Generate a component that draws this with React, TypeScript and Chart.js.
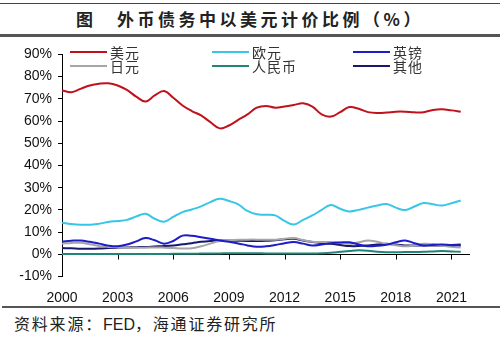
import React, { useEffect, useRef } from "react";
import { Chart, registerables } from "chart.js";

Chart.register(...registerables);

const years = [
  2000, 2000.5, 2001, 2001.5, 2002, 2002.5, 2003, 2003.5, 2004, 2004.5,
  2005, 2005.5, 2006, 2006.5, 2007, 2007.5, 2008, 2008.5, 2009, 2009.5,
  2010, 2010.5, 2011, 2011.5, 2012, 2012.5, 2013, 2013.5, 2014, 2014.5,
  2015, 2015.5, 2016, 2016.5, 2017, 2017.5, 2018, 2018.5, 2019, 2019.5,
  2020, 2020.5, 2021, 2021.5,
];

const usd = [
  73.8, 73.0, 74.5, 76.0, 76.8, 77.0, 76.0, 74.0, 71.0, 68.8,
  71.5, 73.5, 70.5, 67.0, 64.5, 62.5, 59.5, 56.7, 58.0, 60.5,
  63.0, 66.0, 66.8, 66.0, 66.5, 67.2, 68.0, 66.5, 63.0, 62.0,
  64.0, 66.3, 65.5, 64.0, 63.6, 63.8, 64.2, 64.2, 63.9, 64.0,
  65.0, 65.3, 64.8, 64.2,
];

const eur = [
  14.2, 13.6, 13.3, 13.3, 13.8, 14.5, 15.0, 15.5, 17.0, 18.2,
  16.0, 14.7, 16.8, 19.0, 20.2, 21.6, 23.5, 25.0, 24.0, 22.5,
  19.5, 18.0, 17.8, 17.5, 15.0, 13.4, 15.5, 17.5, 20.0, 22.2,
  20.5, 19.3, 20.0, 21.0, 22.0, 22.6, 21.0, 19.9, 21.5, 23.1,
  22.5, 22.0, 23.0, 24.2,
];

const gbp = [
  5.8, 6.1, 6.2, 5.6, 4.8, 3.9, 3.6, 4.4, 5.8, 7.3,
  6.3, 4.8, 6.0, 8.4, 8.3, 7.7, 7.0, 6.2, 5.6, 4.9,
  4.0, 3.4, 3.6, 4.2, 5.0, 5.5, 4.8, 4.0, 4.4, 5.0,
  5.3, 5.4, 4.4, 3.6, 3.8, 4.3, 5.4, 6.2, 5.0, 4.0,
  4.3, 4.4, 4.1, 4.0,
];

const jpy = [
  4.8, 5.1, 5.2, 4.5, 3.7, 3.3, 3.1, 3.0, 3.0, 3.0,
  3.1, 3.0, 2.8, 2.6, 2.7, 3.6, 4.8, 6.0, 6.4, 6.5,
  6.6, 6.6, 6.5, 6.6, 7.0, 7.3, 6.4, 5.6, 5.5, 5.5,
  5.2, 4.7, 5.4, 6.2, 5.6, 4.7, 4.1, 3.6, 4.0, 4.7,
  4.5, 3.8, 3.4, 3.0,
];

const cny = [
  0.1, 0.1, 0.1, 0.1, 0.1, 0.1, 0.1, 0.1, 0.1, 0.1,
  0.1, 0.1, 0.2, 0.2, 0.2, 0.3, 0.4, 0.4, 0.5, 0.5,
  0.5, 0.5, 0.4, 0.4, 0.4, 0.4, 0.4, 0.4, 0.5, 0.7,
  1.1, 1.5, 1.8, 1.6, 1.1, 0.9, 0.9, 1.0, 1.0, 1.1,
  1.3, 1.5, 1.3, 1.1,
];

const other = [
  2.8, 2.7, 2.5, 2.5, 2.6, 2.8, 3.0, 3.1, 3.2, 3.3,
  3.5, 3.7, 4.0, 4.5, 5.0, 5.6, 6.0, 6.2, 6.2, 6.1,
  6.0, 6.0, 6.1, 6.3, 6.8, 7.0, 6.2, 5.5, 5.0, 4.7,
  4.2, 3.7, 3.7, 4.0, 4.4, 4.7, 4.4, 4.0, 4.0, 4.0,
  4.0, 4.0, 4.2, 4.4,
];

const seriesNames = ["美元", "欧元", "英镑", "日元", "人民币", "其他"];
const seriesValues = [usd, eur, gbp, jpy, cny, other];
const seriesColors = ["#C0121C", "#38C6E6", "#1C1CC8", "#A6A6A6", "#1F8578", "#18186E"];

const xTickYears = [2000, 2003, 2006, 2009, 2012, 2015, 2018, 2021];
const yTickValues = [-10, 0, 10, 20, 30, 40, 50, 60, 70, 80, 90];

const titleText = "外币债务中以美元计价比例（%）";
const sourceText = "资料来源：FED，海通证券研究所";

const zeroLinePlugin = {
  id: "zeroLine",
  beforeDatasetsDraw(chart: any) {
    const { ctx, chartArea, scales } = chart;
    const y = Math.round(scales.y.getPixelForValue(0)) + 0.5;
    ctx.save();
    ctx.strokeStyle = "#000";
    ctx.lineWidth = 1;
    ctx.beginPath();
    ctx.moveTo(chartArea.left, y);
    ctx.lineTo(chartArea.right, y);
    xTickYears.forEach((v) => {
      const x = Math.round(scales.x.getPixelForValue(v)) + 0.5;
      ctx.moveTo(x, y);
      ctx.lineTo(x, y + 5);
    });
    ctx.stroke();
    ctx.restore();
  },
};

function ChartCanvas() {
  const ref = useRef<HTMLCanvasElement>(null);
  useEffect(() => {
    if (!ref.current) return;
    const chart = new Chart(ref.current, {
      type: "line",
      data: {
        datasets: seriesNames.map((name, i) => ({
          label: name,
          data: years.map((yr, j) => ({ x: yr, y: seriesValues[i][j] })),
          borderColor: seriesColors[i],
          backgroundColor: seriesColors[i],
          borderWidth: 2,
          pointRadius: 0,
          tension: 0.4,
          fill: false,
        })),
      },
      options: {
        responsive: false,
        animation: false,
        events: [],
        layout: { padding: { top: 12, right: 30, left: 0, bottom: 0 } },
        plugins: {
          legend: { display: false },
          tooltip: { enabled: false },
        },
        scales: {
          x: {
            type: "linear",
            min: 2000,
            max: 2022,
            afterBuildTicks: (scale: any) => {
              scale.ticks = xTickYears.map((v) => ({ value: v }));
            },
            afterFit: (scale: any) => {
              scale.height = 28.5;
            },
            grid: { display: false, drawTicks: false },
            border: { display: false },
            ticks: {
              padding: 13,
              color: "#111",
              font: { family: "'Liberation Sans', Arial, sans-serif", size: 14 },
              callback: (v: any) => String(v),
              maxRotation: 0,
              autoSkip: false,
            },
          },
          y: {
            type: "linear",
            min: -10,
            max: 90,
            afterBuildTicks: (scale: any) => {
              scale.ticks = yTickValues.map((v) => ({ value: v }));
            },
            afterFit: (scale: any) => {
              scale.width = 62;
            },
            grid: {
              drawOnChartArea: false,
              drawTicks: true,
              tickLength: 4,
              color: "#000",
            },
            border: { display: true, color: "#000", width: 1 },
            ticks: {
              padding: 6,
              color: "#111",
              font: { family: "'Liberation Sans', Arial, sans-serif", size: 14 },
              callback: (v: any) => v + "%",
            },
          },
        },
      },
      plugins: [zeroLinePlugin],
    });
    return () => chart.destroy();
  }, []);
  return <canvas ref={ref} width={500} height={265} style={{ display: "block", width: 500, height: 265 }} />;
}

const legendCols = [
  [0, 3],
  [1, 4],
  [2, 5],
];
const legendX = [70, 212, 353];
const legendY = [52, 65.5];

export default function App() {
  return (
    <div
      style={{
        position: "absolute",
        left: 0,
        top: 0,
        width: 500,
        height: 350,
        background: "#fff",
        overflow: "hidden",
        fontFamily: "'Noto Sans CJK SC', sans-serif",
      }}
    >
      <div style={{ position: "absolute", left: 0, top: 3, width: 500, height: 1, background: "#444" }} />
      <div
        style={{
          position: "absolute",
          left: 0,
          top: 5,
          width: 500,
          height: 28,
          lineHeight: "28px",
          textAlign: "center",
          fontSize: 17,
          fontWeight: 700,
          color: "#222",
          whiteSpace: "nowrap",
        }}
      >
        <span style={{ marginRight: 24 }}>图</span>
        <span style={{ letterSpacing: 3.5 }}>{titleText}</span>
      </div>
      <div style={{ position: "absolute", left: 0, top: 34, width: 500, height: 3, background: "#555" }} />

      <div style={{ position: "absolute", left: 0, top: 40 }}>
        <ChartCanvas />
      </div>

      {legendCols.map((col, ci) =>
        col.map((si, ri) => (
          <React.Fragment key={si}>
            <div
              style={{
                position: "absolute",
                left: legendX[ci],
                top: legendY[ri] - 1,
                width: 37,
                height: 2,
                background: seriesColors[si],
              }}
            />
            <div
              style={{
                position: "absolute",
                left: legendX[ci] + 40,
                top: legendY[ri] - 9,
                height: 18,
                lineHeight: "18px",
                fontSize: 14,
                letterSpacing: 1,
                color: "#333",
                whiteSpace: "nowrap",
              }}
            >
              {seriesNames[si]}
            </div>
          </React.Fragment>
        ))
      )}

      <div style={{ position: "absolute", left: 2, top: 306, width: 498, height: 2, background: "#555" }} />
      <div
        style={{
          position: "absolute",
          left: 14,
          top: 312,
          height: 22,
          lineHeight: "22px",
          fontSize: 16,
          letterSpacing: 1.8,
          color: "#222",
          whiteSpace: "nowrap",
        }}
      >
        资料来源：<span style={{ fontFamily: "'Liberation Sans', Arial, sans-serif", letterSpacing: 0 }}>FED</span>，海通证券研究所
      </div>
    </div>
  );
}
